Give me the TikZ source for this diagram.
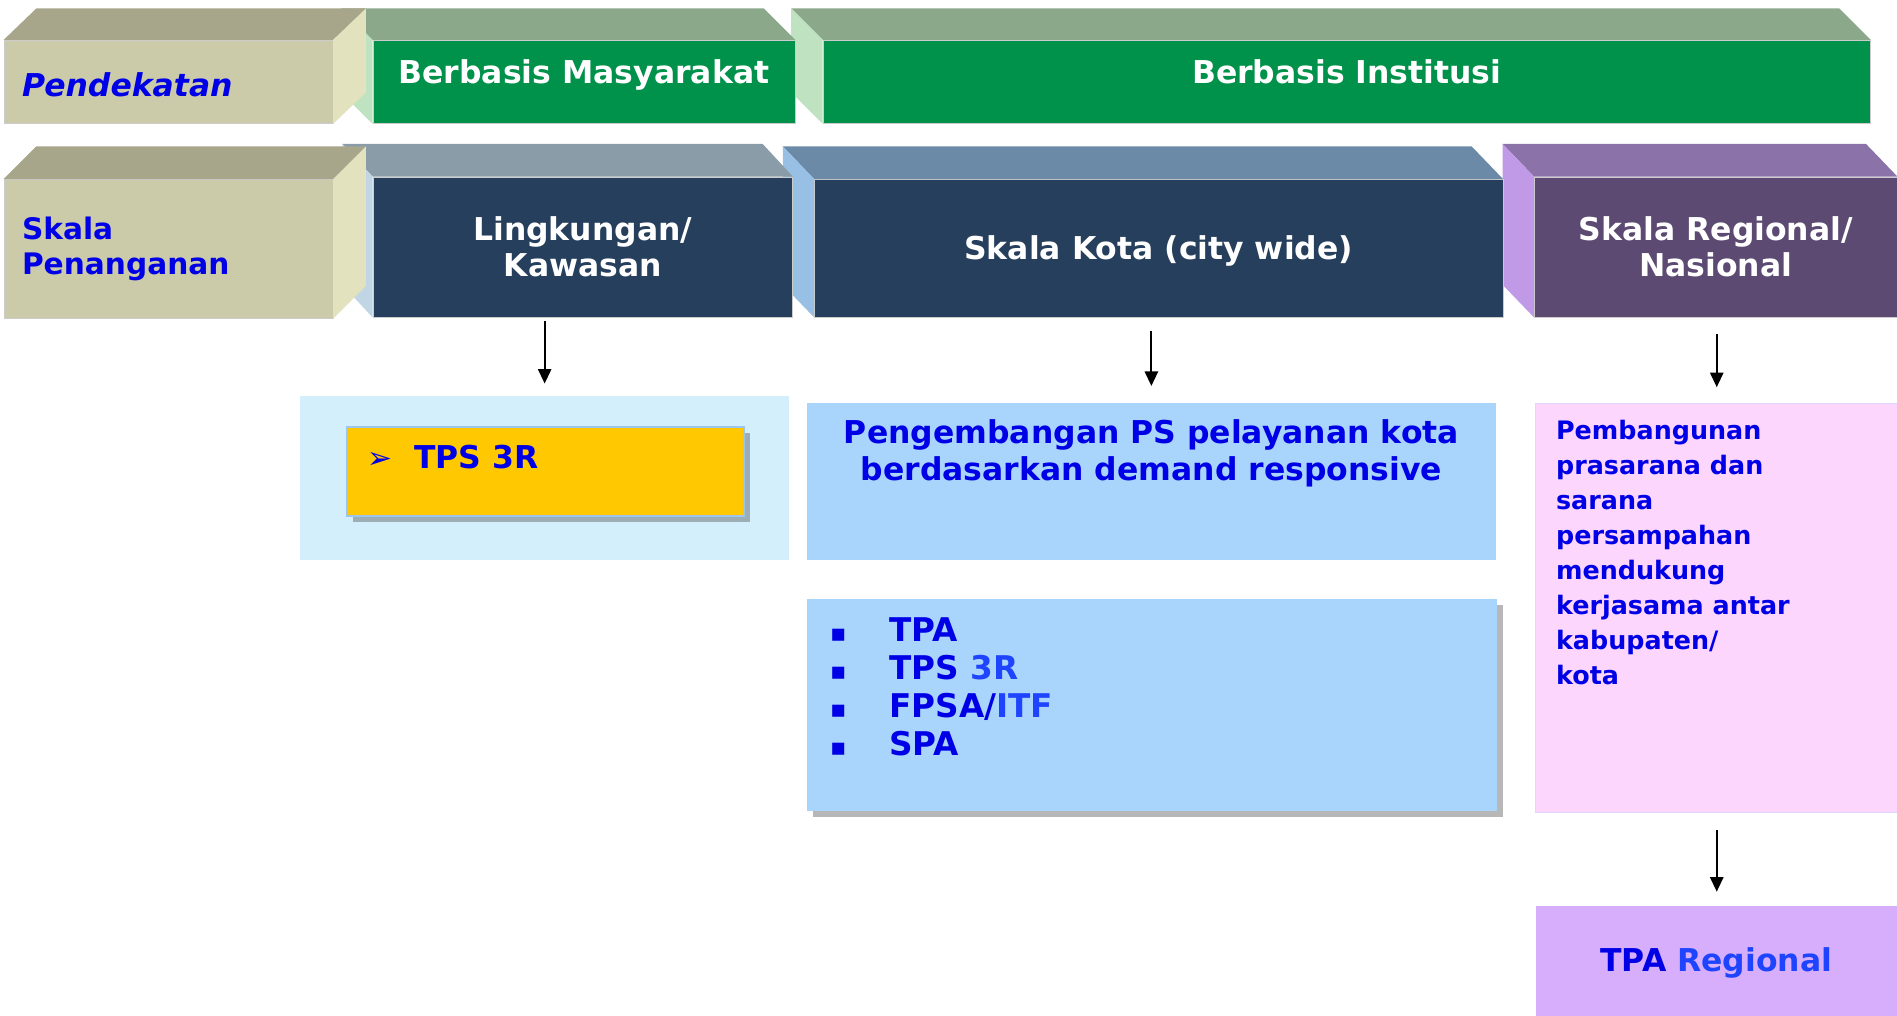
\documentclass[tikz,border=0pt]{standalone}
\usepackage{fontspec}
\setmainfont{DejaVu Sans}
\usetikzlibrary{arrows.meta,shadows}

% slab colours: front, top, side
\definecolor{khfront}{HTML}{CCCBA9}
\definecolor{khtop}{HTML}{A8A68A}
\definecolor{khside}{HTML}{E3E2BF}
\definecolor{grfront}{HTML}{00924A}
\definecolor{grtop}{HTML}{8BA88B}
\definecolor{grside}{HTML}{BFE3C0}
\definecolor{nvfront}{HTML}{263F5C}
\definecolor{lktop}{HTML}{8A9CA8}
\definecolor{lkside}{HTML}{C0D6E4}
\definecolor{kttop}{HTML}{6B8AA8}
\definecolor{ktside}{HTML}{97C0E4}
\definecolor{rgfront}{HTML}{5C4A72}
\definecolor{rgtop}{HTML}{8B72A8}
\definecolor{rgside}{HTML}{C09AE6}
% panel colours
\definecolor{bgtps}{HTML}{D4EFFC}
\definecolor{yeltps}{HTML}{FFC800}
\definecolor{lntps}{HTML}{9DC6EE}
\definecolor{bgkota}{HTML}{A9D5FC}
\definecolor{bgpink}{HTML}{FCD6FC}
\definecolor{lnpink}{HTML}{DCD8FF}
\definecolor{bgtpa}{HTML}{D6AEFC}
\definecolor{txtblue}{HTML}{0000E6}
\definecolor{txtlight}{HTML}{1E44FF}

\newcommand\bigbold{\bfseries\fontsize{26}{30}\selectfont}

\tikzset{
  face/.style={draw=black!20, line width=0.4pt, inner sep=0pt, anchor=north west,
    align=center, text=white, font=\bigbold},
  khface/.style={face, fill=khfront, text=txtblue, align=left, inner xsep=15pt,
    text width=242pt, minimum width=272pt},
  panel/.style={inner sep=0pt, anchor=north west},
  body/.style={inner sep=0pt, text=txtblue, font=\bigbold},
  arr/.style={-{Triangle[length=12pt,width=11pt]}, line width=1.5pt},
  boxshadow/.style={drop shadow={shadow xshift=5pt, shadow yshift=-5pt, opacity=0.4, fill=black!70}}
}

\begin{document}
\begin{tikzpicture}[x=1pt,y=-1pt]
\useasboundingbox (0,0) rectangle (1568,839);

% row 1: pendekatan
\node[face, fill=grfront, minimum width=866pt, minimum height=69pt, text height=19pt, text depth=16pt] (inst) at (680,33) {Berbasis Institusi};
\fill[grtop] (inst.north west) -- ++(-26,-26) -- ([shift={(-26,-26)}]inst.north east) -- (inst.north east) -- cycle;
\fill[grside] (inst.north west) -- ++(-26,-26) -- ([shift={(-26,-26)}]inst.south west) -- (inst.south west) -- cycle;

\node[face, fill=grfront, minimum width=349pt, minimum height=69pt, text height=19pt, text depth=16pt] (masy) at (308,33) {Berbasis Masyarakat};
\fill[grtop] (masy.north west) -- ++(-26,-26) -- ([shift={(-26,-26)}]masy.north east) -- (masy.north east) -- cycle;
\fill[grside] (masy.north west) -- ++(-26,-26) -- ([shift={(-26,-26)}]masy.south west) -- (masy.south west) -- cycle;

\node[khface, minimum height=69pt, text height=24pt, text depth=0pt, font=\bfseries\itshape\fontsize{26}{30}\selectfont] (pend) at (3,33) {Pendekatan};
\fill[khtop] (pend.north west) -- ++(27,-26) -- ([shift={(27,-26)}]pend.north east) -- (pend.north east) -- cycle;
\fill[khside] (pend.north east) -- ++(27,-26) -- ([shift={(27,-26)}]pend.south east) -- (pend.south east) -- cycle;

% row 2: skala penanganan
\node[face, fill=rgfront, minimum width=300pt, minimum height=116pt] (regio) at (1268,146) {Skala Regional/\\Nasional};
\fill[rgtop] (regio.north west) -- ++(-26,-27) -- ([shift={(-26,-27)}]regio.north east) -- (regio.north east) -- cycle;
\fill[rgside] (regio.north west) -- ++(-26,-27) -- ([shift={(-26,-27)}]regio.south west) -- (regio.south west) -- cycle;

\node[face, fill=nvfront, minimum width=569pt, minimum height=114pt, text height=19pt, text depth=0pt] (kota) at (673,148) {Skala Kota (city wide)};
\fill[kttop] (kota.north west) -- ++(-26,-27) -- ([shift={(-26,-27)}]kota.north east) -- (kota.north east) -- cycle;
\fill[ktside] (kota.north west) -- ++(-26,-27) -- ([shift={(-26,-27)}]kota.south west) -- (kota.south west) -- cycle;

\node[face, fill=nvfront, minimum width=347pt, minimum height=116pt] (lingk) at (308,146) {Lingkungan/\\Kawasan};
\fill[lktop] (lingk.north west) -- ++(-25,-27) -- ([shift={(-25,-27)}]lingk.north east) -- (lingk.north east) -- cycle;
\fill[lkside] (lingk.north west) -- ++(-25,-27) -- ([shift={(-25,-27)}]lingk.south west) -- (lingk.south west) -- cycle;

\node[khface, minimum height=115pt, font=\bfseries\fontsize{24.5}{29}\selectfont] (skala) at (3,148) {Skala\\Penanganan};
\fill[khtop] (skala.north west) -- ++(27,-27) -- ([shift={(27,-27)}]skala.north east) -- (skala.north east) -- cycle;
\fill[khside] (skala.north east) -- ++(27,-27) -- ([shift={(27,-27)}]skala.south east) -- (skala.south east) -- cycle;

% lingkungan
\node[panel, fill=bgtps, minimum width=404pt, minimum height=136pt] (tpsbg) at (248,327) {};
\node[panel, fill=yeltps, draw=lntps, line width=1.5pt, boxshadow, minimum width=328pt, minimum height=74pt] (tps) at (286,352) {};
\node[body, anchor=base west] (tpstxt) at ([shift={(17,35)}]tps.north west) {\makebox[39pt][l]{\fontsize{25}{25}\selectfont ➢}TPS 3R};

% kota
\node[panel, fill=bgkota, minimum width=569pt, minimum height=130pt] (pspk) at (667,333) {};
\node[body, anchor=north, align=center] (pspktxt) at ([shift={(0,14)}]pspk.north) {Pengembangan PS pelayanan kota\\berdasarkan demand responsive};

\node[panel, fill=bgkota, boxshadow, minimum width=570pt, minimum height=175pt] (fas) at (667,495) {};
\node[body, anchor=north west, align=left, font=\bfseries\fontsize{27}{31.5}\selectfont] (fastxt) at ([shift={(19,15)}]fas.north west)
  {\makebox[49pt][l]{\fontsize{20}{20}\selectfont ▪}TPA\\
   \makebox[49pt][l]{\fontsize{20}{20}\selectfont ▪}TPS \textcolor{txtlight}{3R}\\
   \makebox[49pt][l]{\fontsize{20}{20}\selectfont ▪}FPSA/\textcolor{txtlight}{ITF}\\
   \makebox[49pt][l]{\fontsize{20}{20}\selectfont ▪}SPA};

% regional
\node[panel, fill=bgpink, draw=lnpink, line width=1pt, minimum width=299pt, minimum height=338pt] (pink) at (1269,333) {};
\node[body, anchor=north west, align=left, font=\bfseries\fontsize{21}{29}\selectfont] (pinktxt) at ([shift={(17,14)}]pink.north west)
  {Pembangunan\\prasarana dan\\sarana\\persampahan\\mendukung\\kerjasama antar\\kabupaten/\\kota};

\node[panel, fill=bgtpa, minimum width=299pt, minimum height=94pt, text=txtblue, font=\bigbold] (tpa) at (1269,749) {TPA \textcolor{txtlight}{Regional}};

% arrows
\draw[arr, shorten <=3pt, shorten >=10pt] (lingk.south -| tpsbg.north) -- (tpsbg.north);
\draw[arr, shorten <=11pt, shorten >=14pt] (kota.south -| pspk.north) -- (pspk.north);
\draw[arr, shorten <=14pt, shorten >=13pt] (regio.south -| pink.north) -- (pink.north);
\draw[arr, shorten <=14pt, shorten >=12pt] (pink.south) -- (pink.south |- tpa.north);
\end{tikzpicture}
\end{document}
